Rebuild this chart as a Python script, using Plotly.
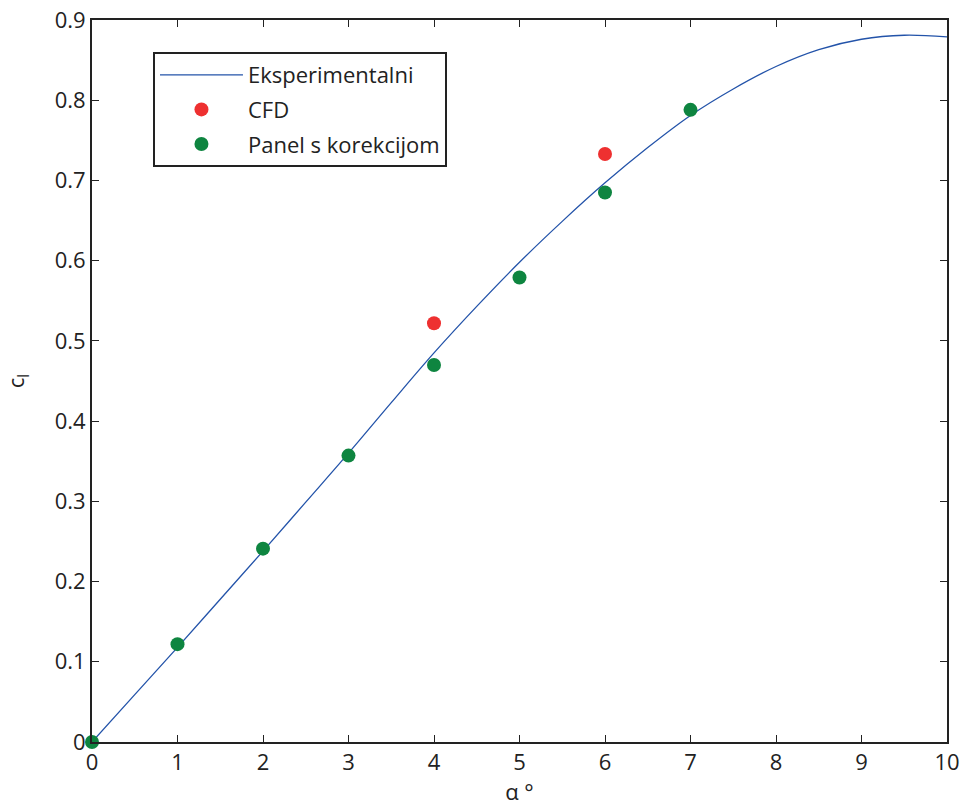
import plotly.graph_objects as go

exp_alpha = [0, 0.5, 1, 1.5, 2, 2.5, 3, 3.5, 4, 4.5, 5, 5.5, 6, 6.5, 7, 7.5, 8, 8.5, 9, 9.5, 10]
exp_cl = [0, 0.059, 0.118, 0.178, 0.238, 0.299, 0.360, 0.423, 0.485, 0.543, 0.598, 0.649,
          0.697, 0.741, 0.781, 0.814, 0.842, 0.863, 0.876, 0.881, 0.879]

cfd_alpha = [4, 6]
cfd_cl = [0.522, 0.733]

panel_alpha = [0, 1, 2, 3, 4, 5, 6, 7]
panel_cl = [0.0, 0.122, 0.241, 0.357, 0.470, 0.579, 0.685, 0.788]

x_ticks = list(range(0, 11))
y_ticks = [0, 0.1, 0.2, 0.3, 0.4, 0.5, 0.6, 0.7, 0.8, 0.9]
y_tick_text = ["0", "0.1", "0.2", "0.3", "0.4", "0.5", "0.6", "0.7", "0.8", "0.9"]

FONT = "Open Sans"
FS = 22

fig = go.Figure()
fig.add_trace(go.Scatter(x=exp_alpha, y=exp_cl, mode="lines", name="Eksperimentalni",
                         legendgroup="a",
                         line=dict(color="#2353a9", width=1.3, shape="spline")))
fig.add_trace(go.Scatter(x=cfd_alpha, y=cfd_cl, mode="markers", name="CFD",
                         legendgroup="b",
                         marker=dict(color="#ee3030", size=14)))
fig.add_trace(go.Scatter(x=panel_alpha, y=panel_cl, mode="markers", name="Panel s korekcijom",
                         legendgroup="c",
                         marker=dict(color="#0e8540", size=14), cliponaxis=False))

axis_common = dict(showgrid=False, zeroline=False, showline=True, linecolor="#222",
                   linewidth=2, mirror="ticks", ticks="inside", ticklen=7, tickwidth=1.2,
                   tickcolor="#222", automargin=False,
                   tickfont=dict(family=FONT, size=FS, color="#222"))

fig.update_layout(
    width=965, height=808,
    margin=dict(l=92, r=18, t=20, b=66),
    paper_bgcolor="white", plot_bgcolor="white",
    font=dict(family=FONT, size=FS, color="#222"),
    showlegend=True,
    legend=dict(x=0.0713, y=0.9557, xanchor="left", yanchor="top",
                bgcolor="white", bordercolor="#222", borderwidth=2,
                font=dict(family=FONT, size=FS, color="#222"),
                itemwidth=83, tracegroupgap=3),
    xaxis=dict(range=[0, 10], tickvals=x_ticks, **axis_common,
               title=dict(text="α °", font=dict(family=FONT, size=FS), standoff=2)),
    yaxis=dict(range=[0, 0.9], tickvals=y_ticks, ticktext=y_tick_text, **axis_common,
               title=dict(text="c<sub>l</sub>", font=dict(family=FONT, size=FS), standoff=24)),
)

fig.write_html("out.html")
